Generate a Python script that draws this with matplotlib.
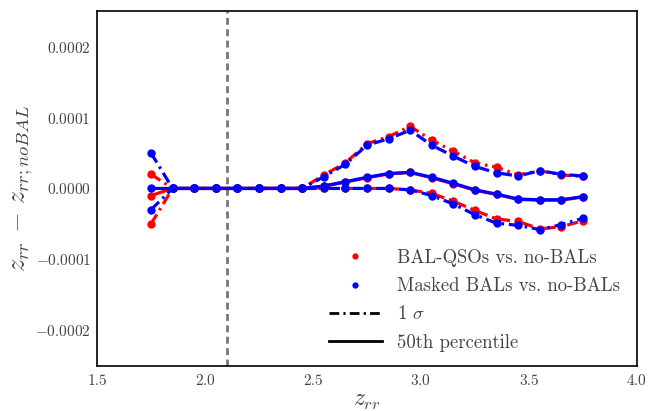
import matplotlib
matplotlib.use("Agg")
import matplotlib.pyplot as plt
from matplotlib.lines import Line2D
from matplotlib.ticker import FixedLocator, FixedFormatter

plt.rcParams["font.family"] = ["cmr10", "DejaVu Serif"]
plt.rcParams["mathtext.fontset"] = "cm"
plt.rcParams["axes.unicode_minus"] = False

# Redshift bin centres
z_bins = [1.75, 1.85, 1.95, 2.05, 2.15, 2.25, 2.35, 2.45, 2.55, 2.65, 2.75,
          2.85, 2.95, 3.05, 3.15, 3.25, 3.35, 3.45, 3.55, 3.65, 3.75]

# Redshift differences, in units of 1e-4
bal_upper = [0.20, 0, 0, 0, 0, 0, 0, 0, 0.19, 0.36, 0.63,
             0.73, 0.875, 0.68, 0.525, 0.36, 0.30, 0.19, 0.25, 0.19, 0.17]
bal_median = [-0.10, 0, 0, 0, 0, 0, 0, 0, 0.03, 0.09, 0.15,
              0.205, 0.225, 0.15, 0.065, -0.025, -0.085, -0.155, -0.165, -0.165, -0.12]
bal_lower = [-0.50, 0, 0, 0, 0, 0, 0, 0, 0, 0, 0,
             0, -0.02, -0.07, -0.18, -0.31, -0.43, -0.465, -0.57, -0.54, -0.455]

masked_upper = [0.50, 0, 0, 0, 0, 0, 0, 0, 0.165, 0.34, 0.61,
                0.70, 0.82, 0.61, 0.455, 0.31, 0.22, 0.175, 0.25, 0.20, 0.175]
masked_median = [0, 0, 0, 0, 0, 0, 0, 0, 0.035, 0.095, 0.157,
                 0.21, 0.227, 0.157, 0.073, -0.02, -0.08, -0.15, -0.16, -0.16, -0.115]
masked_lower = [-0.30, 0, 0, 0, 0, 0, 0, 0, 0, 0, 0,
                0, -0.02, -0.10, -0.22, -0.37, -0.49, -0.52, -0.58, -0.51, -0.42]

z_cut = 2.1
x_ticks = [1.5, 2.0, 2.5, 3.0, 3.5, 4.0]
y_ticks = [-0.0002, -0.0001, 0.0, 0.0001, 0.0002]
y_tick_labels = [r"$-0.0002$", r"$-0.0001$", r"$0.0000$", r"$0.0001$", r"$0.0002$"]

scale = 1e-4
dashdot = (0, (3.5, 1.5, 0.8, 1.5))
text_grey = "#444444"

fig = plt.figure(figsize=(6.6, 4.11), dpi=100)
ax = fig.add_axes([0.147, 0.11, 0.818, 0.863])

ax.axvline(z_cut, color="#777777", lw=2, linestyle=(0, (2.5, 1.6)), zorder=1)

for color, up, med, lo in [("red", bal_upper, bal_median, bal_lower),
                           ("blue", masked_upper, masked_median, masked_lower)]:
    ax.plot(z_bins, [v * scale for v in up], color=color, lw=2.3,
            linestyle=dashdot, marker="o", ms=5)
    ax.plot(z_bins, [v * scale for v in med], color=color, lw=2.3,
            linestyle="-", marker="o", ms=5)
    ax.plot(z_bins, [v * scale for v in lo], color=color, lw=2.3,
            linestyle=dashdot, marker="o", ms=5)

ax.set_xlim(1.5, 4.0)
ax.set_ylim(-0.00025, 0.00025)
ax.xaxis.set_major_locator(FixedLocator(x_ticks))
ax.xaxis.set_major_formatter(FixedFormatter([f"${t:.1f}$" for t in x_ticks]))
ax.yaxis.set_major_locator(FixedLocator(y_ticks))
ax.yaxis.set_major_formatter(FixedFormatter(y_tick_labels))
ax.tick_params(length=0, labelsize=11, colors=text_grey)
ax.tick_params(axis="y", pad=4.5)
ax.tick_params(axis="x", pad=5.5)
for s in ax.spines.values():
    s.set_linewidth(1.2)
    s.set_color("black")

ax.set_xlabel(r"$z_{rr}$", fontsize=17, labelpad=1, color=text_grey)
ax.set_ylabel(r"$z_{rr}\,-\,z_{rr;noBAL}$", fontsize=19, labelpad=0, color=text_grey)

handles = [
    Line2D([], [], color="red", marker=".", ls="none", ms=7),
    Line2D([], [], color="blue", marker=".", ls="none", ms=7),
    Line2D([], [], color="black", lw=2, linestyle=dashdot),
    Line2D([], [], color="black", lw=2, linestyle="-"),
]
labels = ["BAL-QSOs vs. no-BALs", "Masked BALs vs. no-BALs", r"1 $\sigma$", "50th percentile"]
leg = ax.legend(handles, labels, loc="lower right", frameon=False, fontsize=13.5,
                handlelength=2.8, labelspacing=0.55, borderaxespad=0.35,
                bbox_to_anchor=(0.994, 0.0))
for t in leg.get_texts():
    t.set_color(text_grey)

fig.savefig("out.png", dpi=100)
